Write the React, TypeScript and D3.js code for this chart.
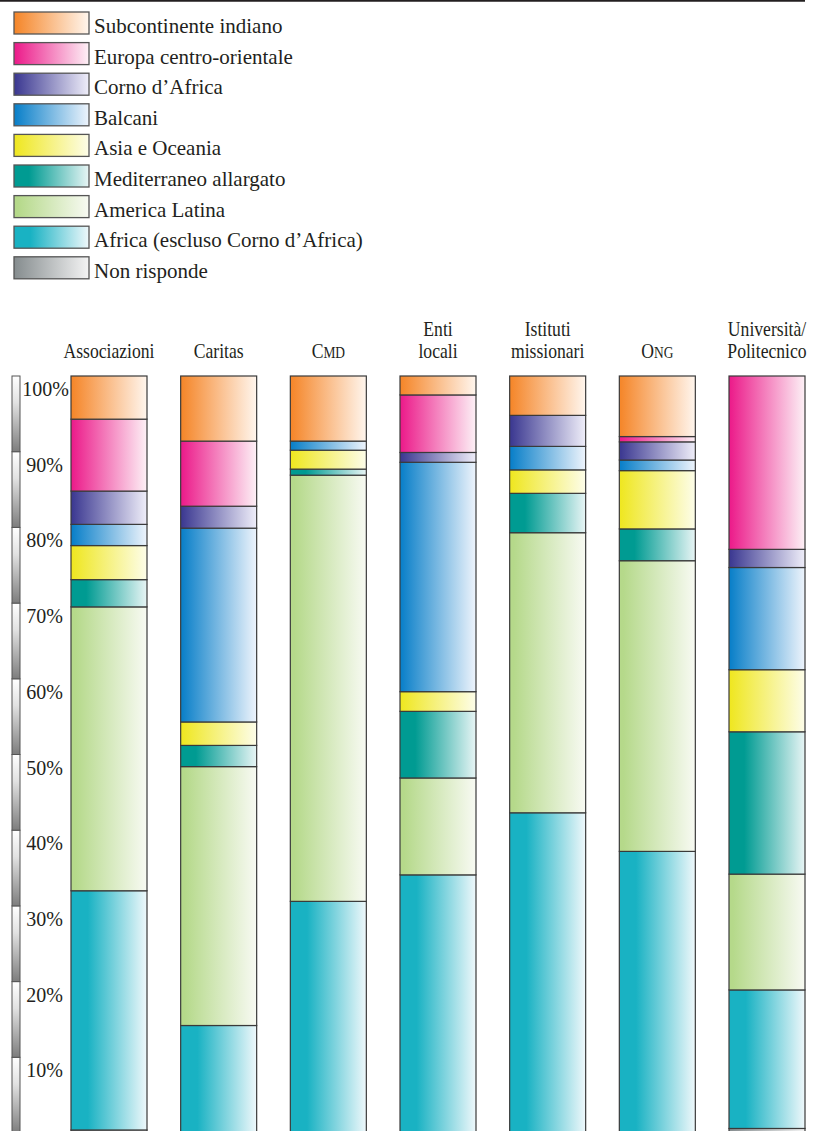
import React from "react";
import * as d3 from "d3";

// Bar categories (x axis) and their header lines
const categories = [
  "Associazioni",
  "Caritas",
  "CMD",
  "Enti locali",
  "Istituti missionari",
  "ONG",
  "Università/Politecnico",
];

// Series, listed from the bottom of each stack upward (percent of answers)
const seriesKeys = [
  "nonRisponde",
  "africa",
  "americaLatina",
  "mediterraneo",
  "asia",
  "balcani",
  "corno",
  "europa",
  "subcontinente",
];

const seriesLabels = [
  "Non risponde",
  "Africa (escluso Corno d\u2019Africa)",
  "America Latina",
  "Mediterraneo allargato",
  "Asia e Oceania",
  "Balcani",
  "Corno d\u2019Africa",
  "Europa centro-orientale",
  "Subcontinente indiano",
];

const nonRisponde = [0.4, 0, 0, 0, 0, 0, 0.6];
const africa = [31.6, 14.2, 30.6, 34.1, 42.3, 37.2, 18.3];
const americaLatina = [37.5, 34.2, 56.3, 12.8, 37.0, 38.4, 15.3];
const mediterraneo = [3.6, 2.8, 0.8, 8.8, 5.2, 4.2, 18.8];
const asia = [4.5, 3.1, 2.5, 2.6, 3.1, 7.7, 8.2];
const balcani = [2.8, 25.6, 1.2, 30.3, 3.1, 1.4, 13.5];
const corno = [4.4, 2.9, 0, 1.3, 4.1, 2.4, 2.4];
const europa = [9.5, 8.6, 0, 7.6, 0, 0.7, 22.9];
const subcontinente = [5.7, 8.6, 8.6, 2.5, 5.2, 8.0, 0];

const axisTicks = [10, 20, 30, 40, 50, 60, 70, 80, 90, 100];

// Gradient colour ramps per series: [saturated, hold offset, light]
const palette: Record<string, [string, number, string]> = {
  nonRisponde: ["#858c8e", 0, "#f4f4f4"],
  africa: ["#19b2c3", 0.22, "#eff8fb"],
  americaLatina: ["#b5d98a", 0.05, "#f8faf3"],
  mediterraneo: ["#009b92", 0.2, "#e8f5f5"],
  asia: ["#efe722", 0.02, "#fdfde9"],
  balcani: ["#0b80c9", 0.02, "#eef4fc"],
  corno: ["#3d3a92", 0.02, "#efeef9"],
  europa: ["#ec1d8b", 0.02, "#fdf1f6"],
  subcontinente: ["#f5872b", 0.02, "#fff6ee"],
};

const rows = categories.map((c, i) => ({
  category: c,
  nonRisponde: nonRisponde[i],
  africa: africa[i],
  americaLatina: americaLatina[i],
  mediterraneo: mediterraneo[i],
  asia: asia[i],
  balcani: balcani[i],
  corno: corno[i],
  europa: europa[i],
  subcontinente: subcontinente[i],
}));

const W = 821;
const H = 1131;
const FONT = '"Times New Roman", Times, "Liberation Serif", "DejaVu Serif", serif';
const STROKE = "#3a3a3a";

function Header({ cat, cx }: { cat: string; cx: number }) {
  const base = 358;
  const common = {
    fontSize: 21,
    fill: "#231f20",
    textAnchor: "middle" as const,
    style: { fontFamily: FONT },
  };
  const g = (content: React.ReactNode, y: number, key: string) => (
    <g key={key} transform={`translate(${cx},${y}) scale(0.84,1)`}>
      <text {...common} x={0} y={0}>
        {content}
      </text>
    </g>
  );
  if (cat === "CMD")
    return g(
      <>
        C<tspan fontSize={16}>MD</tspan>
      </>,
      base,
      "c"
    );
  if (cat === "ONG")
    return g(
      <>
        O<tspan fontSize={16}>NG</tspan>
      </>,
      base,
      "o"
    );
  if (cat === "Enti locali")
    return <g>{[g("Enti", base - 22, "a"), g("locali", base, "b")]}</g>;
  if (cat === "Istituti missionari")
    return <g>{[g("Istituti", base - 22, "a"), g("missionari", base, "b")]}</g>;
  if (cat === "Università/Politecnico")
    return <g>{[g("Università/", base - 22, "a"), g("Politecnico", base, "b")]}</g>;
  return g(cat, base, "s");
}

export default function App() {
  const x = d3
    .scaleBand<string>()
    .domain(categories)
    .range([71, 805])
    .paddingInner(0.307)
    .paddingOuter(0);
  const y = d3.scaleLinear().domain([0, 100]).range([1133, 376]);

  const stacked = d3.stack<any>().keys(seriesKeys)(rows);

  const legendOrder = seriesKeys.map((k, i) => ({ key: k, label: seriesLabels[i] })).reverse();

  return (
    <>
      <style>{`body{margin:0;background:#fff}`}</style>
      <svg width={W} height={H} viewBox={`0 0 ${W} ${H}`} style={{ display: "block" }}>
        <defs>
          {seriesKeys.map((k) => {
            const [c, hold, light] = palette[k];
            return (
              <linearGradient key={k} id={`grad-${k}`} x1="0" x2="1" y1="0" y2="0">
                <stop offset={0} stopColor={c} />
                {hold > 0 && <stop offset={hold} stopColor={c} />}
                <stop offset={1} stopColor={light} />
              </linearGradient>
            );
          })}
          <linearGradient id="grad-axis" x1="0" x2="0" y1="0" y2="1">
            <stop offset={0} stopColor="#ffffff" />
            <stop offset={0.35} stopColor="#e2e2e2" />
            <stop offset={1} stopColor="#7d7d7d" />
          </linearGradient>
        </defs>

        {/* top rule */}
        <line x1={0} x2={805} y1={0.8} y2={0.8} stroke="#231f20" strokeWidth={1.8} />

        {/* legend */}
        {legendOrder.map((d, i) => {
          const top = 12 + i * 30.6;
          return (
            <g key={d.key}>
              <rect
                x={14}
                y={top}
                width={75}
                height={22}
                fill={`url(#grad-${d.key})`}
                stroke="#555"
                strokeWidth={1.3}
              />
              <text
                x={94}
                y={top + 21}
                fontSize={21}
                fill="#231f20"
                style={{ fontFamily: FONT }}
              >
                {d.label}
              </text>
            </g>
          );
        })}

        {/* headers */}
        {categories.map((c) => (
          <Header key={c} cat={c} cx={(x(c) as number) + x.bandwidth() / 2} />
        ))}

        {/* vertical percent scale */}
        {axisTicks.map((t) => (
          <g key={t}>
            <rect
              x={12}
              y={y(t)}
              width={8}
              height={y(t - 10) - y(t)}
              fill="url(#grad-axis)"
              stroke="#555"
              strokeWidth={1}
            />
            <text
              x={t === 100 ? 45.5 : 44.5}
              y={y(t) + 20}
              textAnchor="middle"
              fontSize={20}
              fill="#231f20"
              style={{ fontFamily: FONT }}
            >
              {`${t}%`}
            </text>
          </g>
        ))}

        {/* stacked bars */}
        {stacked.map((layer) => (
          <g key={layer.key}>
            {layer.map((seg, j) => {
              const h = y(seg[0]) - y(seg[1]);
              if (h <= 0) return null;
              return (
                <rect
                  key={j}
                  x={x(categories[j]) as number}
                  y={y(seg[1])}
                  width={x.bandwidth()}
                  height={h}
                  fill={`url(#grad-${layer.key})`}
                  stroke={STROKE}
                  strokeWidth={1.2}
                />
              );
            })}
          </g>
        ))}
      </svg>
    </>
  );
}
